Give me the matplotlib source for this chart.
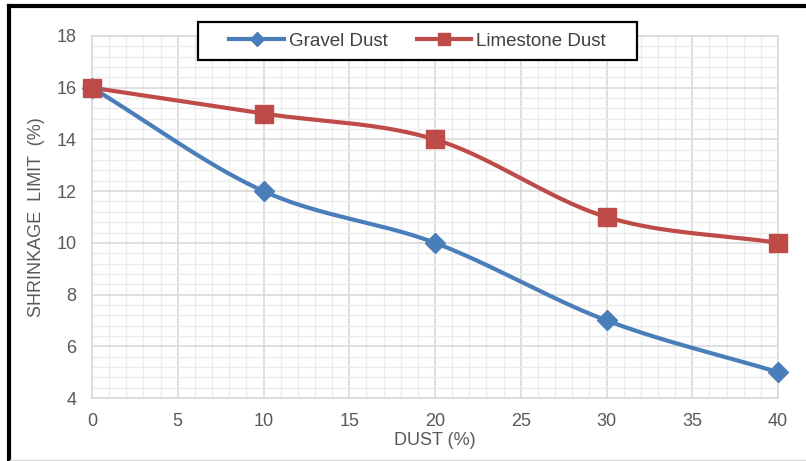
import numpy as np
import matplotlib
matplotlib.use("Agg")
import matplotlib.pyplot as plt
from matplotlib.ticker import MultipleLocator
from matplotlib.lines import Line2D
from matplotlib.patches import Rectangle

plt.rcParams["font.family"] = ["Liberation Sans", "DejaVu Sans"]

dust = [0, 10, 20, 30, 40]
gravel = [16, 12, 10, 7, 5]
limestone = [16, 15, 14, 11, 10]
series_names = ["Gravel Dust", "Limestone Dust"]
colors = ["#4a7ebb", "#be4b48"]


def smooth(x, y, n=40):
    x = np.asarray(x, float)
    y = np.asarray(y, float)
    px = np.concatenate([[2 * x[0] - x[1]], x, [2 * x[-1] - x[-2]]])
    py = np.concatenate([[2 * y[0] - y[1]], y, [2 * y[-1] - y[-2]]])
    xs, ys = [], []
    for i in range(1, len(px) - 2):
        p0, p1, p2, p3 = (np.array([px[j], py[j]]) for j in (i - 1, i, i + 1, i + 2))
        c1 = p1 + (p2 - p0) / 6
        c2 = p2 - (p3 - p1) / 6
        t = np.linspace(0, 1, n)[:, None]
        b = ((1 - t) ** 3) * p1 + 3 * ((1 - t) ** 2) * t * c1 + 3 * (1 - t) * t ** 2 * c2 + t ** 3 * p2
        xs.append(b[:, 0])
        ys.append(b[:, 1])
    return np.concatenate(xs), np.concatenate(ys)


W, H = 806, 461
fig = plt.figure(figsize=(W / 100, H / 100), dpi=100)
ax = fig.add_axes([92 / W, 1 - 398 / H, (778 - 92) / W, (398 - 36) / H])

ax.set_xlim(0, 40)
ax.set_ylim(4, 18)
ax.xaxis.set_major_locator(MultipleLocator(5))
ax.xaxis.set_minor_locator(MultipleLocator(1))
ax.yaxis.set_major_locator(MultipleLocator(2))
ax.yaxis.set_minor_locator(MultipleLocator(0.4))
ax.grid(which="major", color="#d9d9d9", lw=1.2, zorder=0)
ax.grid(which="minor", color="#ececec", lw=1.0, zorder=0)
ax.set_axisbelow(True)
for s in ax.spines.values():
    s.set_color("#d9d9d9")
    s.set_linewidth(1.2)
ax.tick_params(which="both", length=0, labelsize=13, colors="#595959")
ax.tick_params(axis="x", pad=11)
ax.tick_params(axis="y", pad=11)

for ys, c, m, ms in [(gravel, colors[0], "D", 10.5), (limestone, colors[1], "s", 13)]:
    sx, sy = smooth(dust, ys)
    ax.plot(sx, sy, color=c, lw=3, zorder=3, solid_capstyle="round")
    ax.plot(dust, ys, ls="none", marker=m, ms=ms, color=c, zorder=4, clip_on=False)

ax.set_xlabel("DUST (%)", fontsize=13, color="#595959", labelpad=1)
ax.set_ylabel("SHRINKAGE  LIMIT  (%)", fontsize=13, color="#595959", labelpad=8)

# legend box (white, black border) then legend entries on top
fig.add_artist(Rectangle((198 / W, 1 - 60 / H), (637 - 198) / W, (60 - 22) / H,
                         transform=fig.transFigure, facecolor="white", edgecolor="black",
                         lw=1.6, zorder=5))
handles = [
    Line2D([0], [0], color=colors[0], lw=3, marker="D", ms=7),
    Line2D([0], [0], color=colors[1], lw=3, marker="s", ms=9),
]
leg = fig.legend(handles, series_names, loc="center", bbox_to_anchor=((198 + 637) / 2 / W, 1 - 41 / H),
                 ncol=2, fontsize=13.5, frameon=False, handlelength=2.9,
                 columnspacing=1.55, handletextpad=0.27, borderpad=0.3, borderaxespad=0)
leg.set_zorder(6)
for t in leg.get_texts():
    t.set_color("#404040")

# outer frame
fig.add_artist(Line2D([8.5 / W, 8.5 / W], [1 - 6.5 / H, 0], transform=fig.transFigure, color="black", lw=3))
fig.add_artist(Line2D([8.5 / W, 1], [1 - 6.5 / H, 1 - 6.5 / H], transform=fig.transFigure, color="black", lw=3))
fig.add_artist(Line2D([10 / W, 1], [1 - 459.5 / H, 1 - 459.5 / H], transform=fig.transFigure, color="#d9d9d9", lw=1))

fig.savefig("out.png", dpi=100)
